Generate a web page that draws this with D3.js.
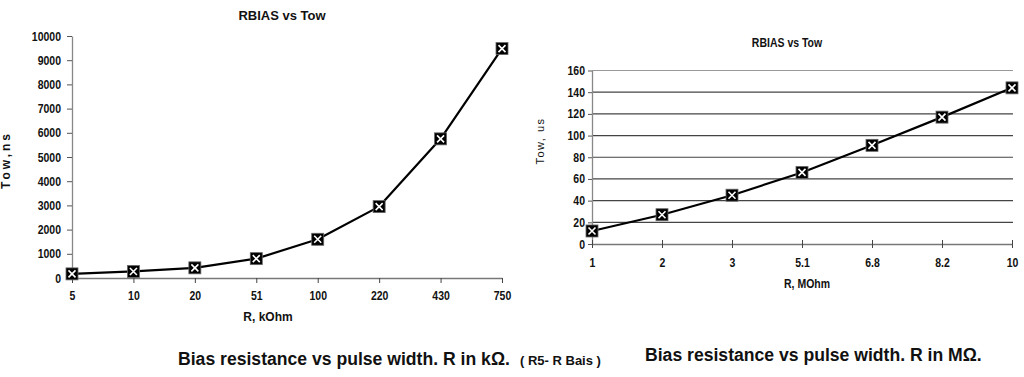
<!DOCTYPE html>
<html>
<head>
<meta charset="utf-8">
<script src="https://cdn.jsdelivr.net/npm/d3@7"></script>
<style>
  body { margin: 0; background: #fff; }
  svg { display: block; }
  text { font-family: "Liberation Sans", Arial, sans-serif; fill: #111; }
</style>
</head>
<body>
<div id="chart"></div>
<script>
// left chart: R in kOhm vs Tow in ns
var kohmCats = ["5", "10", "20", "51", "100", "220", "430", "750"];
var towNs = [170, 270, 420, 800, 1600, 2950, 5750, 9480];
var nsTicks = [0, 1000, 2000, 3000, 4000, 5000, 6000, 7000, 8000, 9000, 10000];

// right chart: R in MOhm vs Tow in us
var mohmCats = ["1", "2", "3", "5.1", "6.8", "8.2", "10"];
var towUs = [12, 27, 45, 66, 91, 117, 144];
var usTicks = [0, 20, 40, 60, 80, 100, 120, 140, 160];

var squeeze = 0.84;

var svg = d3.select("#chart").append("svg")
    .attr("width", 1024)
    .attr("height", 377);

function marker(g, cx, cy) {
    var s = 6;
    g.append("rect")
        .attr("x", cx - s).attr("y", cy - s)
        .attr("width", 2 * s).attr("height", 2 * s)
        .attr("fill", "#000").attr("stroke", "#666").attr("stroke-width", 0.8);
    g.append("path")
        .attr("d", "M" + (cx - 3.5) + "," + (cy - 3.5) + "L" + (cx + 3.5) + "," + (cy + 3.5) +
                   "M" + (cx + 3.5) + "," + (cy - 3.5) + "L" + (cx - 3.5) + "," + (cy + 3.5))
        .attr("stroke", "#fff").attr("stroke-width", 1.6);
}

// narrow bold tick labels, squeezed horizontally
function styleY(gap) {
    return function (g) {
        g.select(".domain").attr("stroke", "#888").attr("stroke-width", 1.3);
        g.selectAll(".tick line").attr("stroke", "#555");
        g.selectAll(".tick text")
            .attr("font-size", 12.5).attr("font-weight", "bold").attr("fill", "#111")
            .attr("x", -gap / squeeze)
            .attr("transform", "scale(" + squeeze + ",1)");
    };
}
function styleX(y) {
    return function (g) {
        g.select(".domain").attr("stroke", "#777").attr("stroke-width", 1.3);
        g.selectAll(".tick line").attr("stroke", "#444");
        g.selectAll(".tick text")
            .attr("font-size", 12.5).attr("font-weight", "bold").attr("fill", "#111")
            .attr("y", y)
            .attr("transform", "scale(" + squeeze + ",1)");
    };
}

// ---------- left chart ----------
var x1 = d3.scalePoint().domain(kohmCats).range([72, 502]);
var y1 = d3.scaleLinear().domain([0, 10000]).range([278, 36]);

var left = svg.append("g");

left.append("g")
    .attr("transform", "translate(72,0)")
    .call(d3.axisLeft(y1).tickValues(nsTicks).tickSize(5).tickSizeOuter(0).tickFormat(d3.format("d")))
    .call(styleY(11));

left.append("g")
    .attr("transform", "translate(0,278)")
    .call(d3.axisBottom(x1).tickSize(5).tickSizeOuter(0))
    .call(styleX(13.5));

var line1 = d3.line()
    .x(function (d, i) { return x1(kohmCats[i]); })
    .y(function (d) { return y1(d); });

left.append("path")
    .datum(towNs)
    .attr("d", line1)
    .attr("fill", "none").attr("stroke", "#000").attr("stroke-width", 2.2)
    .attr("stroke-linejoin", "round");

towNs.forEach(function (v, i) { marker(left, x1(kohmCats[i]), y1(v)); });

left.append("text")
    .attr("x", 282).attr("y", 20)
    .attr("text-anchor", "middle")
    .attr("font-size", 13).attr("font-weight", "bold")
    .text("RBIAS vs Tow");

left.append("text")
    .attr("transform", "translate(10,160) rotate(-90)")
    .attr("text-anchor", "middle")
    .attr("font-size", 12).attr("font-weight", "bold")
    .attr("letter-spacing", 3)
    .text("Tow,ns");

left.append("text")
    .attr("x", 268).attr("y", 321)
    .attr("text-anchor", "middle")
    .attr("font-size", 12).attr("font-weight", "bold")
    .text("R, kOhm");

left.append("text")
    .attr("x", 178).attr("y", 365)
    .attr("font-size", 17.6).attr("font-weight", "bold")
    .text("Bias resistance vs pulse width. R in k\u03A9.");

left.append("text")
    .attr("x", 520).attr("y", 365)
    .attr("font-size", 13).attr("font-weight", "bold")
    .text("( R5- R Bais )");

// ---------- right chart ----------
var x2 = d3.scalePoint().domain(mohmCats).range([592, 1012]);
var y2 = d3.scaleLinear().domain([0, 160]).range([244, 70.5]);

var right = svg.append("g");

right.append("g")
    .selectAll("line")
    .data(usTicks.filter(function (d) { return d > 0; }))
    .join("line")
    .attr("x1", 592).attr("x2", 1013)
    .attr("y1", function (d) { return y2(d); })
    .attr("y2", function (d) { return y2(d); })
    .attr("stroke", function (d) { return d === 160 ? "#999" : "#444"; })
    .attr("stroke-width", 1.2);

right.append("g")
    .attr("transform", "translate(592,0)")
    .call(d3.axisLeft(y2).tickValues(usTicks).tickSize(4).tickSizeOuter(0))
    .call(styleY(7));

right.append("g")
    .attr("transform", "translate(0,244)")
    .call(d3.axisBottom(x2).tickSize(4).tickSizeOuter(0))
    .call(styleX(14))
    .call(function (g) { g.selectAll(".tick line").attr("y1", -4); });

var line2 = d3.line()
    .x(function (d, i) { return x2(mohmCats[i]); })
    .y(function (d) { return y2(d); });

right.append("path")
    .datum(towUs)
    .attr("d", line2)
    .attr("fill", "none").attr("stroke", "#000").attr("stroke-width", 2.2)
    .attr("stroke-linejoin", "round");

towUs.forEach(function (v, i) { marker(right, x2(mohmCats[i]), y2(v)); });

right.append("text")
    .attr("transform", "translate(787,47) scale(" + squeeze + ",1)")
    .attr("text-anchor", "middle")
    .attr("font-size", 12.5).attr("font-weight", "bold")
    .attr("fill", "#222")
    .text("RBIAS vs Tow");

right.append("text")
    .attr("transform", "translate(544,141) rotate(-90)")
    .attr("text-anchor", "middle")
    .attr("font-size", 11)
    .attr("letter-spacing", 1.5)
    .attr("fill", "#223")
    .text("Tow,  us");

right.append("text")
    .attr("transform", "translate(807,288) scale(" + squeeze + ",1)")
    .attr("text-anchor", "middle")
    .attr("font-size", 12.5).attr("font-weight", "bold")
    .attr("fill", "#222")
    .text("R, MOhm");

right.append("text")
    .attr("x", 645).attr("y", 361)
    .attr("font-size", 17.6).attr("font-weight", "bold")
    .text("Bias resistance vs pulse width. R in M\u03A9.");
</script>
</body>
</html>
